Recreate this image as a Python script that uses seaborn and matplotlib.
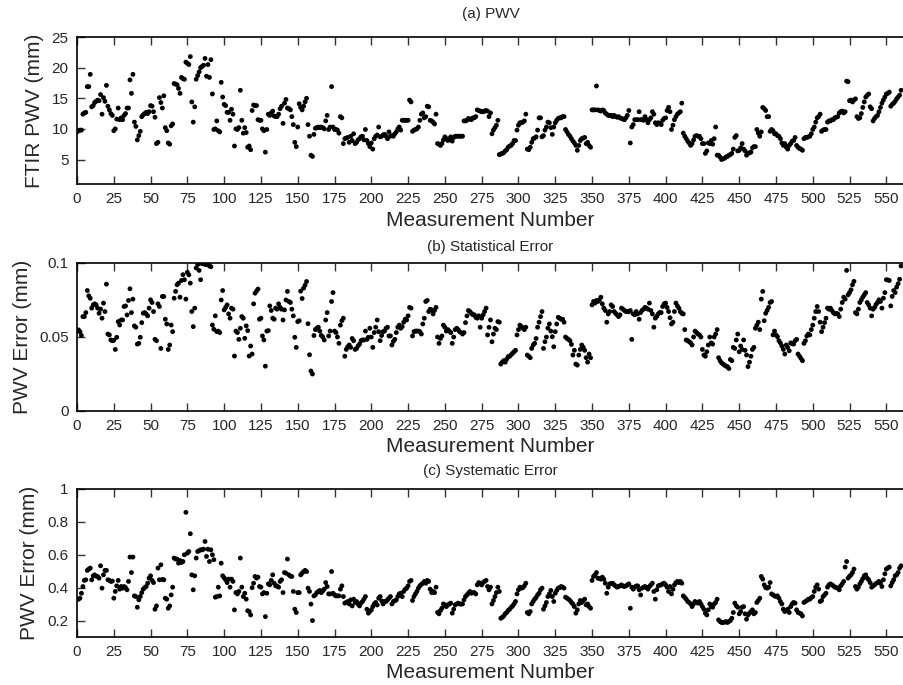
import numpy as np
import pandas as pd
import matplotlib
matplotlib.use("Agg")
import matplotlib.pyplot as plt
import seaborn as sns

# ---------------- data ----------------
pwv = [
 9.5, 9.7, 9.8, 9.8, 12.4, 12.6, 12.7, 16.9, 16.9, 18.9,
 13.6, 13.8, 14.3, 14.5, 14.7, 14.6, 15.6, 12.4, 15.1, 14.5,
 17.1, 13.7, 13.1, 12.5, 12.2, 9.7, 10.0, 11.6, 13.4, 11.5,
 11.8, 11.5, 12.2, 12.5, 13.4, 13.4, 18.0, 15.8, 18.9, 11.1,
 10.4, 8.2, 8.9, 9.6, 12.0, 12.3, 12.5, 12.7, 12.5, 12.8,
 13.8, 13.7, 12.8, 11.9, 7.6, 7.8, 15.1, 14.3, 13.4, 15.4,
 10.2, 9.7, 7.7, 7.5, 10.5, 10.8, 17.4, 17.3, 17.2, 16.6,
 15.8, 18.4, 18.2, 18.1, 20.9, 20.7, 20.5, 21.8, 14.4, 11.1,
 13.6, 18.1, 18.7, 19.3, 20.0, 20.2, 20.4, 21.5, 18.6, 20.5,
 18.4, 21.3, 15.7, 9.9, 10.0, 11.3, 9.7, 9.5, 17.6, 15.2,
 14.0, 13.8, 12.7, 12.7, 11.4, 13.2, 12.4, 7.2, 10.0, 9.9,
 10.2, 16.3, 11.4, 9.3, 10.2, 9.4, 7.0, 7.2, 6.6, 13.0,
 13.9, 13.8, 13.8, 11.5, 11.4, 11.4, 10.0, 9.7, 6.2, 9.9,
 12.4, 12.2, 12.6, 12.9, 12.1, 12.0, 12.0, 12.4, 13.3, 13.7,
 10.9, 14.2, 14.8, 13.4, 13.3, 13.1, 12.0, 10.7, 7.8, 7.1,
 10.3, 14.1, 13.5, 13.1, 13.7, 14.4, 15.0, 10.7, 8.8, 5.7,
 5.5, 9.1, 10.1, 10.2, 10.3, 10.2, 10.3, 10.2, 10.0, 11.3,
 12.2, 9.9, 10.3, 16.9, 10.3, 9.9, 9.9, 9.8, 9.3, 12.0,
 11.8, 7.6, 8.4, 8.5, 8.6, 7.8, 8.8, 8.1, 9.2, 7.6,
 7.8, 8.2, 8.4, 8.7, 8.8, 8.2, 9.9, 8.1, 7.6, 7.1,
 7.7, 6.7, 8.4, 8.8, 9.0, 10.3, 8.7, 8.8, 9.0, 9.1,
 8.8, 8.4, 9.5, 8.8, 8.9, 8.8, 9.2, 9.5, 10.0, 10.3,
 9.8, 11.4, 11.4, 11.4, 11.4, 11.4, 14.7, 14.4, 9.6, 9.8,
 9.9, 10.0, 10.3, 11.4, 12.4, 12.6, 11.8, 12.0, 13.7, 13.6,
 11.4, 11.3, 11.1, 10.8, 12.4, 7.6, 7.5, 7.3, 7.6, 8.2,
 8.7, 8.4, 8.1, 8.4, 8.7, 8.0, 8.6, 8.8, 8.8, 8.8,
 8.8, 8.8, 8.8, 11.3, 11.3, 11.4, 11.7, 11.6, 11.5, 11.8,
 11.8, 12.0, 13.1, 13.0, 12.9, 12.8, 12.8, 12.9, 13.0, 12.9,
 12.0, 12.6, 9.2, 9.8, 10.2, 10.6, 11.4, 5.8, 5.9, 6.0,
 6.1, 6.4, 6.6, 7.0, 7.2, 7.3, 7.6, 8.1, 8.1, 9.8,
 10.6, 11.0, 11.0, 11.1, 11.3, 12.4, 6.7, 6.6, 7.0, 7.8,
 8.4, 8.5, 8.7, 9.8, 11.8, 11.8, 8.7, 8.9, 9.8, 10.3,
 11.1, 11.0, 10.2, 9.1, 10.3, 11.0, 11.4, 11.7, 11.8, 11.8,
 12.0, 12.0, 9.9, 9.5, 9.1, 8.8, 8.4, 8.0, 7.7, 7.3,
 6.5, 7.3, 8.1, 8.4, 8.5, 8.6, 7.6, 7.8, 7.3, 7.0,
 13.1, 13.1, 13.1, 17.0, 13.1, 13.0, 12.9, 13.1, 13.0, 12.6,
 12.4, 12.2, 12.2, 12.2, 12.0, 12.2, 12.0, 11.9, 12.0, 11.8,
 11.7, 11.6, 11.5, 11.8, 12.2, 13.0, 7.7, 10.3, 10.7, 11.5,
 11.5, 11.5, 12.8, 11.5, 11.5, 11.4, 12.0, 11.5, 11.0, 11.5,
 11.8, 12.8, 12.4, 11.0, 10.7, 11.0, 10.9, 10.7, 11.4, 11.7,
 11.8, 13.0, 13.5, 12.8, 9.9, 10.6, 11.5, 12.0, 12.4, 12.6,
 12.8, 14.2, 9.3, 8.8, 8.4, 8.0, 7.7, 7.3, 7.6, 8.2,
 8.8, 8.9, 8.8, 8.8, 8.4, 7.6, 7.6, 6.0, 6.4, 7.7,
 7.6, 8.1, 7.5, 8.4, 10.3, 5.7, 5.7, 5.4, 5.0, 5.1,
 5.2, 5.4, 5.5, 5.7, 5.8, 6.0, 6.7, 8.6, 8.9, 6.4,
 6.5, 6.9, 7.6, 6.7, 6.4, 5.7, 6.0, 6.1, 6.2, 6.9,
 7.1, 7.1, 9.9, 9.3, 8.8, 9.5, 13.5, 13.3, 13.0, 12.0,
 12.0, 9.6, 9.9, 9.7, 9.2, 9.2, 8.9, 8.8, 8.4, 7.7,
 7.3, 7.6, 7.0, 6.7, 7.3, 7.6, 8.0, 8.1, 8.6, 7.3,
 7.0, 6.8, 6.7, 6.5, 8.4, 8.6, 8.6, 8.7, 8.8, 9.2,
 9.9, 10.3, 11.1, 11.8, 12.0, 12.4, 9.6, 9.8, 9.9, 9.9,
 11.1, 11.3, 11.3, 11.5, 11.5, 11.8, 11.9, 12.0, 12.6, 12.8,
 12.9, 12.6, 12.8, 17.8, 17.7, 14.6, 14.7, 14.4, 14.7, 14.9,
 12.0, 11.7, 11.8, 12.5, 13.5, 14.4, 15.2, 15.5, 15.7, 13.6,
 13.3, 11.3, 11.7, 12.0, 12.2, 12.8, 13.5, 14.2, 14.7, 15.2,
 15.7, 15.8, 16.0, 13.7, 14.0, 14.2, 14.5, 14.9, 15.2, 15.5,
 16.3,
]

stat_err = [
 .054, .0548, .0536, .051, .0638, .0638, .0665, .0814, .0778, .0762,
 .0695, .0717, .0724, .0717, .0695, .066, .0688, .0627, .0729, .0672,
 .0857, .052, .0514, .048, .0475, .0478, .0416, .0498, .0604, .0581,
 .0615, .0615, .0706, .071, .0649, .0747, .0826, .0665, .0756, .0575,
 .0566, .0452, .0457, .0498, .0597, .0661, .0665, .0656, .0643, .0695,
 .0751, .0733, .0672, .0484, .0475, .0724, .0706, .0423, .0774, .0774,
 .062, .0588, .0416, .0446, .0581, .0536, .0762, .0808, .0853, .0864,
 .0769, .0882, .0921, .0887, .0756, .0937, .092, .0864, .0672, .057,
 .0695, .0966, .0989, .095, .0887, .0995, .1, .099, .099, .099,
 .098, .0975, .0581, .0552, .0643, .0536, .054, .053, .075, .0814,
 .0683, .07, .0717, .0656, .0627, .0695, .0688, .0371, .054, .053,
 .0484, .0559, .0638, .0627, .0491, .0575, .0543, .0371, .0439, .0385,
 .0724, .0796, .081, .0824, .062, .0627, .0507, .048, .0303, .054,
 .0543, .071, .0679, .0627, .062, .0695, .0688, .0724, .07, .0688,
 .0615, .0683, .075, .0808, .074, .0733, .0688, .0643, .0498, .043,
 .0604, .061, .081, .076, .083, .085, .0875, .059, .038, .027,
 .025, .051, .055, .056, .0566, .054, .051, .05, .048, .0615,
 .0665, .0507, .054, .074, .08, .054, .053, .05, .0457, .058,
 .061, .0627, .037, .0416, .0434, .0446, .043, .049, .0475, .0416,
 .0423, .044, .0452, .0475, .048, .048, .054, .0484, .0498, .0559,
 .05, .043, .053, .0566, .0615, .0536, .0475, .051, .0536, .054,
 .0559, .0566, .0507, .0507, .0446, .047, .0484, .053, .0566, .058,
 .0559, .057, .06, .062, .0615, .0643, .07, .0695, .0507, .0536,
 .054, .054, .054, .0536, .052, .0588, .0627, .074, .0747, .0672,
 .0688, .0683, .0656, .068, .07, .05, .0457, .049, .0507, .058,
 .0566, .054, .055, .054, .053, .0457, .05, .055, .0559, .055,
 .0536, .053, .052, .053, .0597, .0643, .0679, .0672, .066, .065,
 .065, .0633, .0627, .0643, .0566, .0627, .065, .0672, .0695, .0514,
 .0566, .0615, .0468, .052, .0559, .055, .0604, .06, .0317, .033,
 .034, .033, .035, .0367, .037, .038, .039, .04, .041, .0514,
 .055, .058, .057, .056, .055, .0566, .0378, .037, .036, .0423,
 .0446, .0457, .049, .0566, .06, .0638, .0672, .0423, .0468, .05,
 .056, .0588, .054, .0502, .0434, .0536, .0588, .0633, .0627, .062,
 .062, .06, .05, .049, .0484, .0475, .045, .0378, .041, .0317,
 .031, .0378, .0416, .0446, .043, .041, .036, .033, .0385, .036,
 .0717, .074, .0729, .0747, .074, .075, .0769, .0724, .0695, .0679,
 .06, .0656, .0672, .0717, .0706, .0672, .066, .065, .0638, .065,
 .0695, .0688, .0679, .0672, .0672, .067, .0679, .0484, .0656, .065,
 .0672, .0656, .062, .0665, .068, .0688, .07, .0695, .0688, .0729,
 .0679, .0656, .0566, .0627, .064, .0656, .0665, .0665, .0706, .0724,
 .0729, .07, .0672, .063, .0588, .06, .0672, .0729, .071, .0695,
 .0672, .066, .0656, .055, .048, .0475, .0468, .046, .0446, .05,
 .054, .053, .052, .0514, .05, .0416, .0378, .037, .04, .0446,
 .05, .046, .0452, .05, .052, .055, .036, .034, .0326, .0317,
 .031, .0303, .03, .0287, .0348, .034, .043, .0423, .048, .052,
 .04, .0439, .0416, .048, .041, .0378, .03, .033, .037, .0416,
 .043, .0559, .058, .06, .055, .0756, .0808, .061, .066, .068,
 .07, .0733, .074, .0514, .054, .0514, .0502, .0475, .046, .0439,
 .0416, .0385, .0446, .043, .0407, .046, .0455, .0452, .0475, .0484,
 .0385, .037, .0355, .034, .0457, .0475, .0507, .052, .0514, .055,
 .058, .0627, .0672, .0706, .0672, .06, .0536, .0566, .0597, .0627,
 .0695, .0688, .0695, .0679, .0665, .0656, .066, .0656, .0638, .0688,
 .0733, .0769, .0756, .095, .0785, .08, .0819, .0853, .0876, .0665,
 .0656, .0688, .0733, .0751, .077, .0785, .08, .0733, .0717, .0695,
 .0643, .0688, .07, .072, .0733, .0751, .074, .0695, .0762, .08,
 .0887, .0885, .0882, .071, .0774, .0814, .08, .0837, .086, .089,
 .098,
]

sys_err = [
 .33, .33, .336, .366, .407, .444, .448, .505, .513, .519,
 .448, .472, .478, .47, .468, .458, .533, .397, .478, .505,
 .505, .448, .444, .438, .44, .336, .377, .411, .444, .391,
 .407, .397, .407, .40, .387, .438, .586, .492, .586, .35,
 .346, .281, .326, .346, .37, .391, .40, .407, .427, .458,
 .472, .444, .431, .269, .289, .519, .448, .539, .45, .448,
 .336, .33, .275, .289, .356, .403, .58, .574, .574, .549,
 .565, .553, .559, .60, .858, .61, .62, .728, .478, .387,
 .472, .58, .62, .625, .63, .63, .634, .681, .59, .634,
 .559, .63, .60, .57, .342, .346, .403, .35, .549, .472,
 .46, .448, .431, .452, .403, .452, .438, .265, .37, .362,
 .377, .58, .403, .346, .366, .33, .26, .255, .234, .40,
 .427, .468, .458, .464, .407, .403, .362, .37, .224, .366,
 .423, .417, .444, .478, .427, .411, .41, .403, .438, .448,
 .37, .492, .488, .574, .478, .47, .468, .377, .269, .249,
 .37, .37, .478, .488, .498, .505, .498, .397, .377, .30,
 .20, .35, .356, .37, .377, .383, .37, .38, .391, .431,
 .407, .362, .362, .498, .366, .356, .35, .35, .35, .391,
 .411, .346, .306, .31, .316, .301, .326, .289, .33, .31,
 .316, .30, .289, .306, .316, .33, .346, .269, .245, .255,
 .265, .285, .301, .31, .295, .336, .346, .32, .301, .316,
 .316, .326, .336, .346, .301, .316, .32, .326, .346, .362,
 .366, .346, .377, .39, .397, .411, .438, .444, .322, .346,
 .362, .377, .397, .411, .42, .427, .438, .427, .444, .438,
 .391, .37, .377, .37, .403, .25, .241, .261, .275, .301,
 .295, .285, .295, .30, .306, .245, .269, .295, .301, .306,
 .301, .30, .301, .326, .346, .356, .366, .377, .366, .37,
 .37, .362, .417, .431, .427, .417, .43, .438, .444, .407,
 .387, .403, .301, .322, .346, .37, .403, .377, .214, .22,
 .228, .241, .249, .261, .269, .28, .289, .301, .316, .362,
 .387, .403, .397, .40, .411, .427, .249, .241, .255, .301,
 .316, .33, .34, .356, .366, .387, .397, .269, .289, .31,
 .346, .362, .383, .346, .316, .366, .383, .397, .40, .407,
 .403, .397, .342, .336, .33, .322, .31, .301, .285, .245,
 .265, .301, .322, .31, .32, .33, .295, .301, .285, .275,
 .444, .468, .478, .492, .458, .455, .452, .464, .452, .427,
 .366, .403, .423, .425, .427, .417, .411, .403, .407, .411,
 .417, .41, .407, .411, .417, .423, .275, .403, .391, .403,
 .41, .411, .387, .356, .397, .403, .407, .40, .391, .407,
 .417, .427, .377, .33, .387, .411, .415, .417, .423, .427,
 .417, .403, .377, .407, .362, .39, .417, .431, .438, .431,
 .438, .427, .35, .34, .33, .316, .31, .301, .285, .301,
 .316, .31, .306, .316, .301, .285, .269, .245, .234, .265,
 .301, .285, .281, .301, .31, .33, .204, .194, .188, .188,
 .19, .194, .188, .194, .20, .214, .249, .306, .29, .281,
 .241, .255, .281, .285, .241, .208, .234, .245, .255, .265,
 .241, .249, .31, .322, .336, .468, .452, .417, .40, .397,
 .403, .431, .362, .356, .35, .346, .35, .336, .316, .301,
 .269, .255, .26, .269, .249, .285, .301, .31, .306, .265,
 .249, .245, .241, .228, .31, .316, .322, .33, .33, .34,
 .346, .377, .403, .417, .391, .316, .322, .346, .356, .366,
 .403, .417, .423, .417, .411, .403, .40, .397, .387, .411,
 .423, .438, .525, .559, .458, .47, .478, .492, .513, .407,
 .391, .403, .423, .438, .455, .472, .478, .458, .448, .431,
 .403, .411, .417, .425, .431, .438, .427, .407, .448, .484,
 .513, .52, .525, .411, .431, .448, .472, .478, .492, .519,
 .533,
]

x_ticks = list(range(0, 551, 25))
titles = ["(a) PWV", "(b) Statistical Error", "(c) Systematic Error"]
ylabels = ["FTIR PWV (mm)", "PWV Error (mm)", "PWV Error (mm)"]
xlabel = "Measurement Number"
y_ticks = [[5, 10, 15, 20, 25], [0, 0.05, 0.1], [0.2, 0.4, 0.6, 0.8, 1.0]]
y_ticklabels = [["5", "10", "15", "20", "25"], ["0", "0.05", "0.1"],
                ["0.2", "0.4", "0.6", "0.8", "1"]]
y_limits = [(1, 25), (0, 0.1), (0.1, 1.0)]
series = [pwv, stat_err, sys_err]

# ---------------- plotting ----------------
sns.set_style("ticks")
plt.rcParams["font.family"] = ["Liberation Sans", "DejaVu Sans"]

W, H = 904, 685
fig = plt.figure(figsize=(W / 100, H / 100), dpi=100)

# axes boxes in pixel coords (left, top, right, bottom)
boxes = [(77, 37, 904, 184), (77, 263, 904, 411), (77, 489, 904, 637)]
title_pads = [13.5, 8.5, 10.0]
ylabel_x = [-0.040, -0.055, -0.046]

for k, (l, t, r, b) in enumerate(boxes):
    ax = fig.add_axes([l / W, 1 - b / H, (r - l) / W, (b - t) / H])
    vals = series[k]
    df = pd.DataFrame({"n": np.arange(len(vals)), "v": vals})
    sns.scatterplot(data=df, x="n", y="v", ax=ax, color="black", s=12,
                    edgecolor="none", linewidth=0, legend=False)
    ax.set_xlim(0, 562)
    ax.set_ylim(*y_limits[k])
    ax.set_xticks(x_ticks)
    ax.set_xticklabels([str(v) for v in x_ticks])
    ax.set_yticks(y_ticks[k])
    ax.set_yticklabels(y_ticklabels[k])
    ax.tick_params(axis="both", direction="in", length=6, width=1,
                   labelsize=11, pad=6, color="#333333")
    ax.tick_params(axis="x", top=True)
    for s in ["top", "bottom", "left"]:
        ax.spines[s].set_linewidth(1.2)
        ax.spines[s].set_color("black")
    ax.spines["right"].set_visible(False)
    ax.set_xlabel(xlabel, fontsize=15, labelpad=3)
    ax.set_ylabel(ylabels[k], fontsize=15)
    ax.yaxis.set_label_coords(ylabel_x[k], 0.5)
    ax.set_title(titles[k], fontsize=11, pad=title_pads[k])

fig.savefig("out.png", dpi=100)
